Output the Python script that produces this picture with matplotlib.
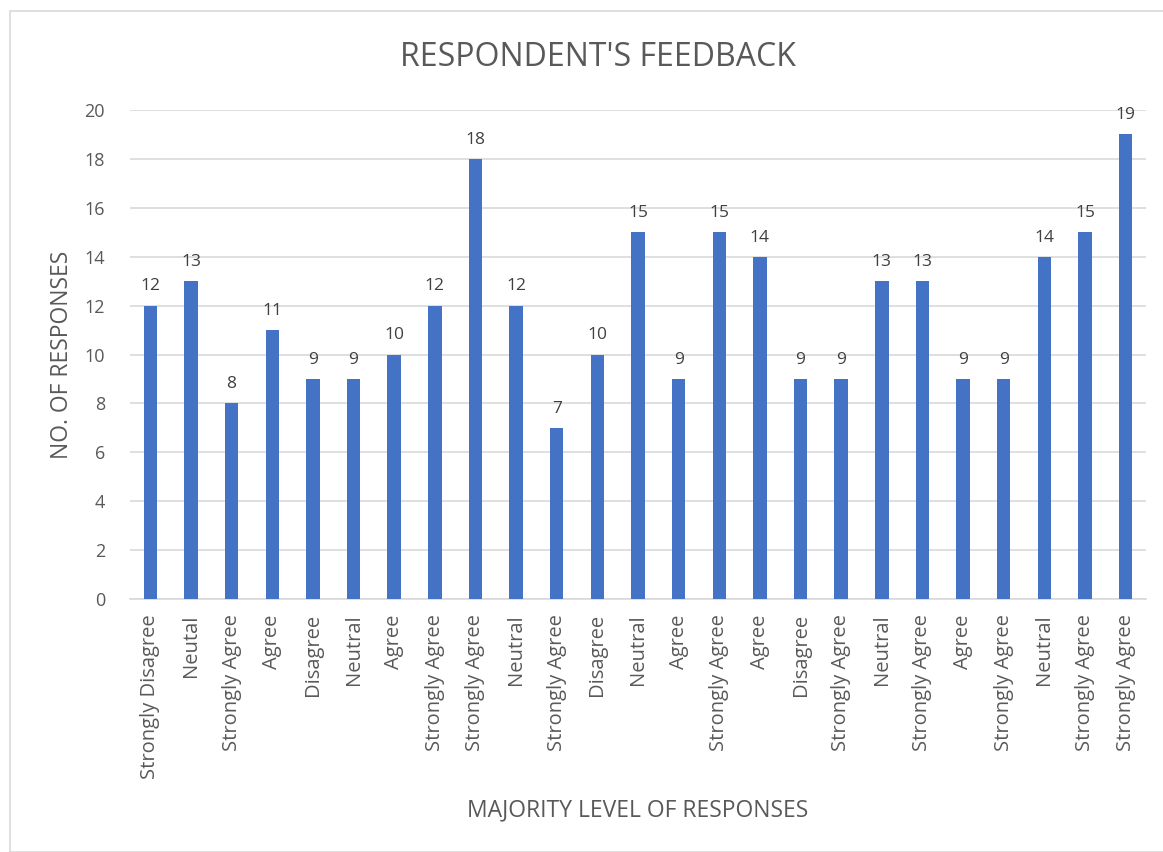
import matplotlib
matplotlib.use("Agg")
import matplotlib.pyplot as plt
from matplotlib.patches import Rectangle

categories = ["Strongly Disagree", "Neutal", "Strongly Agree", "Agree", "Disagree",
              "Neutral", "Agree", "Strongly Agree", "Strongly Agree", "Neutral",
              "Strongly Agree", "Disagree", "Neutral", "Agree", "Strongly Agree",
              "Agree", "Disagree", "Strongly Agree", "Neutral", "Strongly Agree",
              "Agree", "Strongly Agree", "Neutral", "Strongly Agree", "Strongly Agree"]
values = [12, 13, 8, 11, 9, 9, 10, 12, 18, 12, 7, 10, 15, 9, 15, 14, 9, 9, 13, 13, 9, 9, 14, 15, 19]
yticks = [0, 2, 4, 6, 8, 10, 12, 14, 16, 18, 20]

plt.rcParams['font.family'] = ['Open Sans', 'DejaVu Sans']
txt = '#595959'

W, H = 1163, 852
fig = plt.figure(figsize=(W/100, H/100), dpi=100)
fig.patches.append(Rectangle((10/W, 0), 1.0, 1 - 11/H, transform=fig.transFigure,
                             fill=False, edgecolor='#d9d9d9', linewidth=1.2))

ax = fig.add_axes([130/W, 1 - 599/H, (1146-130)/W, (599-110)/H])
x = list(range(len(values)))
bars = ax.bar(x, values, width=0.33, color='#4472C4', zorder=3)
for xi, v in zip(x, values):
    ax.annotate(str(v), (xi, v), xytext=(0, 8), textcoords='offset points',
                ha='center', va='bottom', fontsize=12.5, color='#404040')

ax.set_xlim(-0.5, len(values) - 0.5)
ax.set_ylim(0, 20)
ax.set_yticks(yticks)
ax.set_yticklabels([str(t) for t in yticks], fontsize=13, color=txt)
ax.set_xticks(x)
ax.set_xticklabels(categories, rotation=90, fontsize=14.5, color=txt)
ax.tick_params(axis='both', length=0)
ax.tick_params(axis='y', pad=18)
ax.tick_params(axis='x', pad=11)
ax.grid(axis='y', color='#d9d9d9', linewidth=1.2, zorder=0)
for s in ['top', 'right', 'left']:
    ax.spines[s].set_visible(False)
ax.spines['bottom'].set_color('#d9d9d9')
ax.spines['bottom'].set_linewidth(1.2)

fig.text(598/W, 1 - 57/H, "RESPONDENT'S FEEDBACK", ha='center', va='center',
         fontsize=23, color=txt)
fig.text(62/W, 1 - 355/H, "NO. OF RESPONSES", ha='center', va='center',
         rotation=90, fontsize=16.5, color=txt)
fig.text(638/W, 1 - 810/H, "MAJORITY LEVEL OF RESPONSES", ha='center', va='center',
         fontsize=16.5, color=txt)

fig.savefig('out.png', dpi=100)
